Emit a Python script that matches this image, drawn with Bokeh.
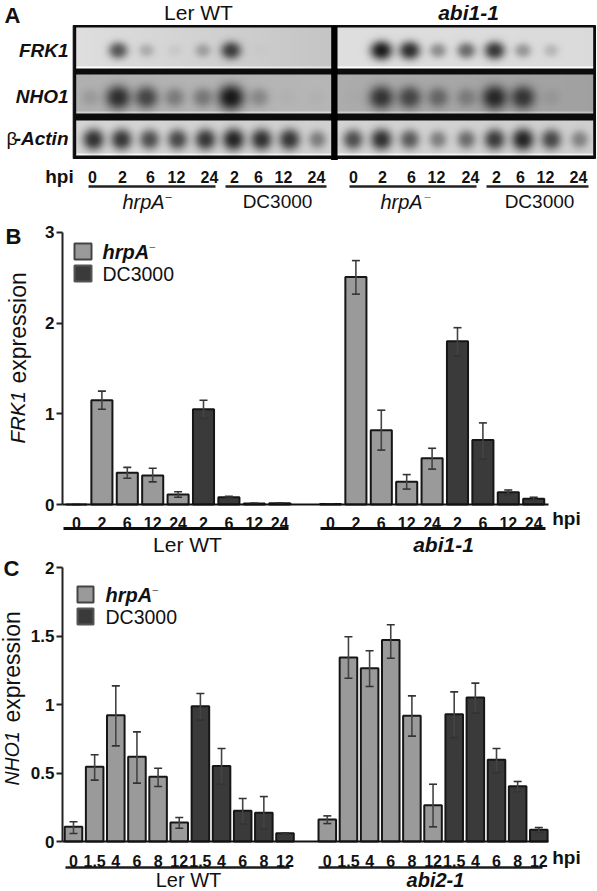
import numpy as np
from bokeh.core.properties import value
from bokeh.embed import file_html
from bokeh.layouts import column
from bokeh.models import FixedTicker, LinearAxis, LinearColorMapper, Range1d
from bokeh.plotting import figure
from bokeh.resources import INLINE

# ---------- data ----------
blot_frk1_ler = [0, .68, .22, .06, .27, .80, .02, 0, 0]
blot_frk1_abi = [0, 1.0, .90, .40, .58, .85, .35, .18, 0]
blot_nho1_ler = [.14, .85, .70, .35, .38, 1.0, .28, .03, .03]
blot_nho1_abi = [.02, .80, .68, .45, .30, .88, .78, .08, 0]
blot_actin_ler = [.88, .85, .72, .75, .85, .95, .88, .85, .45]
blot_actin_abi = [.72, .88, .65, .45, .55, .82, .95, .75, .42]

lane_labels = ["0", "2", "6", "12", "24", "2", "6", "12", "24"]

frk1_labels = ["0", "2", "6", "12", "24", "2", "6", "12", "24"]
frk1_ler = [0.0, 1.15, 0.35, 0.32, 0.11, 1.05, 0.08, 0.012, 0.015]
frk1_ler_up = [0.0, 1.25, 0.41, 0.40, 0.14, 1.15, 0.09, 0.012, 0.015]
frk1_ler_lo = [0.0, 1.05, 0.29, 0.25, 0.08, 0.95, 0.07, 0.012, 0.015]
frk1_abi = [0.005, 2.51, 0.82, 0.25, 0.51, 1.80, 0.71, 0.135, 0.063]
frk1_abi_up = [0.005, 2.69, 1.04, 0.33, 0.62, 1.95, 0.90, 0.16, 0.08]
frk1_abi_lo = [0.005, 2.32, 0.60, 0.17, 0.39, 1.64, 0.50, 0.11, 0.05]

nho1_labels = ["0", "1.5", "4", "6", "8", "12", "1.5", "4", "6", "8", "12"]
nho1_ler = [0.107, 0.545, 0.922, 0.618, 0.472, 0.139, 0.988, 0.552, 0.224, 0.209, 0.061]
nho1_ler_up = [0.144, 0.633, 1.136, 0.80, 0.535, 0.175, 1.08, 0.679, 0.314, 0.328, 0.061]
nho1_ler_lo = [0.058, 0.448, 0.698, 0.426, 0.401, 0.097, 0.886, 0.418, 0.127, 0.09, 0.061]
nho1_abi = [0.161, 1.343, 1.265, 1.47, 0.917, 0.265, 0.929, 1.051, 0.596, 0.404, 0.085]
nho1_abi_up = [0.187, 1.494, 1.392, 1.582, 1.063, 0.418, 1.092, 1.156, 0.679, 0.438, 0.102]
nho1_abi_lo = [0.131, 1.192, 1.131, 1.338, 0.769, 0.107, 0.759, 0.937, 0.504, 0.363, 0.066]

# ---------- style ----------
FONT = "Liberation Sans"
LIGHT, DARK, EDGE, INK = "#9a9a9a", "#3a3a3a", "#161616", "#111111"
W = 597
OX, OY = 0, 0   # positions below are measured in window pixels


def blank(height, x_range, y_range):
    p = figure(width=W, height=height, x_range=x_range, y_range=y_range,
               toolbar_location=None, output_backend="svg", min_border=0,
               tools="", x_axis_type=None, y_axis_type=None)
    p.outline_line_color = None
    p.grid.visible = False
    return p


def put(p, x, y, s, size, style="normal", align="center", angle=0, color=INK):
    p.text(x=[x], y=[y], text=[s], angle=angle, text_font=value(FONT),
           text_font_size=value(f"{size}px"), text_font_style=style,
           text_align=align, text_baseline="middle", text_color=color)


# ---------- panel A ----------
top_a = OY
h_a = 214
pa = blank(h_a, Range1d(OX, OX + W), Range1d(0, h_a))
ya = lambda py: h_a - (py - top_a)

pa.quad(left=[72.7], right=[595], top=[ya(25)], bottom=[ya(158)], color="#0c0c0c")
pa.quad(left=[330.7], right=[337], top=[ya(26)], bottom=[ya(159)], color="#000000")

grays = [f"#{i:02x}{i:02x}{i:02x}" for i in range(256)]
mapper = LinearColorMapper(palette=grays, low=0, high=255)


def lane_image(x0, x1, y0, y1, centers, cy, levels, bg0, bg1, sx, sy):
    w, h = int(round(x1 - x0)), int(round(y1 - y0))
    xs = x0 + (np.arange(w) + .5) * (x1 - x0) / w
    ys = y1 - (np.arange(h) + .5) * (y1 - y0) / h
    X, Y = np.meshgrid(xs, ys)
    frac = (X - x0) / (x1 - x0)
    bg = bg0 + (bg1 - bg0) * frac
    bg = np.where(Y > y1 - 1.6, bg + 35, bg)
    t = np.ones_like(bg)
    for c, lv in zip(centers, levels):
        k = .62 + .38 * lv
        r2 = ((X - c) / (sx * k)) ** 2 + ((Y - cy) / (sy * k)) ** 2
        t *= 1 - .86 * lv * np.exp(-(r2 / 2) ** 1.25)
    return np.clip(bg * t, 0, 255)


rows = [
    (27, 68, 50, blot_frk1_ler, blot_frk1_abi, (222, 196), (222, 218), 7.8, 6.8, 89.5, 28.2),
    (74, 113, 97, blot_nho1_ler, blot_nho1_abi, (176, 182), (172, 160), 9.5, 9, 89.5, 28.2),
    (120, 155, 139, blot_actin_ler, blot_actin_abi, (214, 208), (212, 207), 8, 8, 93, 28),
]
for y0, y1, cy, ler, abi, bgl, bgr, sx, sy, base, step in rows:
    for (x0, x1, lv, bg, b, st) in (
        (75.7, 330.7, ler, bgl, base, step),
        (337, 592.7, abi, bgr, 352.5, 28.2),
    ):
        centers = [b + st * i for i in range(9)]
        arr = lane_image(x0, x1, y0, y1, centers, cy, lv, bg[0], bg[1], sx, sy)
        pa.image(image=[arr], x=x0, y=ya(y1), dw=x1 - x0, dh=y1 - y0, color_mapper=mapper)

put(pa, 4, ya(15), "A", 22, "bold", "left")
put(pa, 198, ya(12), "Ler WT", 21)
put(pa, 468, ya(12), "abi1-1", 21, "bold italic")
put(pa, 68, ya(50), "FRK1", 19, "bold italic", "right")
put(pa, 68, ya(96), "NHO1", 19, "bold italic", "right")
put(pa, 68, ya(138), "-Actin", 19, "bold italic", "right")
put(pa, 6, ya(138), "β", 19, "normal", "left")
put(pa, 59, ya(176), "hpi", 19, "bold")
lane_px = [92, 122, 150, 176, 209, 234, 258, 283, 316, 353, 382, 411, 436, 470, 496, 520, 545, 578]
for px, s in zip(lane_px, lane_labels + lane_labels):
    put(pa, px, ya(176), s, 16, "bold")
for x0, x1 in ((88, 215), (225, 326), (349, 476), (486, 588)):
    pa.segment(x0=[x0], x1=[x1], y0=[ya(186)], y1=[ya(186)], line_width=2.6, line_color="#222222")
put(pa, 143, ya(201), "hrpA", 20, "italic")
put(pa, 168, ya(195), "–", 11)
put(pa, 277, ya(201), "DC3000", 19)
put(pa, 401, ya(201), "hrpA", 20, "italic")
put(pa, 427, ya(195), "–", 11, color="#777777")
put(pa, 539, ya(201), "DC3000", 19)


# ---------- panels B and C ----------
def bar_panel(top, height, x_zero, x_step, right_start, y_zero, y_per, labels,
              ler, ler_up, ler_lo, abi, abi_up, abi_lo, n_light_left, n_light_right,
              y_ticks, y_over, base_end, standoff):
    xd = lambda px: (px - x_zero) / x_step
    yd = lambda py: (y_zero - py) / y_per
    p = blank(height, Range1d(xd(OX), xd(OX + W)), Range1d(yd(top + height), yd(top)))
    n = len(labels)
    xs = list(range(n)) + [right_start + i for i in range(n)]
    tops = ler + abi
    ups = ler_up + abi_up
    los = ler_lo + abi_lo
    fills = [LIGHT] * n_light_left + [DARK] * (n - n_light_left) + [LIGHT] * n_light_right + [DARK] * (n - n_light_right)
    p.vbar(x=xs, top=tops, bottom=0, width=.83, fill_color=fills, line_color=EDGE, line_width=2)
    cap = 4 / x_step
    p.segment(x0=xs, x1=xs, y0=los, y1=ups, line_color="#444444", line_width=1.6)
    p.segment(x0=[x - cap for x in xs], x1=[x + cap for x in xs], y0=ups, y1=ups, line_color="#333333", line_width=1.6)
    p.segment(x0=[x - cap for x in xs], x1=[x + cap for x in xs], y0=los, y1=los, line_color="#333333", line_width=1.6)

    xa = LinearAxis(fixed_location=0, bounds=(xd(62), xd(base_end)),
                    ticker=FixedTicker(ticks=xs),
                    major_label_overrides={x: s for x, s in zip(xs, labels + labels)})
    xa.axis_line_width = 2
    xa.axis_line_color = "#111111"
    xa.major_tick_line_color = None
    xa.minor_tick_line_color = None
    xa.major_label_standoff = standoff
    xa.major_label_text_font = FONT
    xa.major_label_text_font_size = "16px"
    xa.major_label_text_font_style = "bold"
    xa.major_label_text_color = INK
    p.add_layout(xa, "below")

    ya_ = LinearAxis(fixed_location=xd(62), bounds=(0, y_ticks[-1]),
                     ticker=FixedTicker(ticks=y_ticks), major_label_overrides=y_over)
    ya_.axis_line_width = 2
    ya_.axis_line_color = "#222222"
    ya_.major_tick_line_width = 2
    ya_.major_tick_line_color = "#222222"
    ya_.major_tick_in = 0
    ya_.major_tick_out = 6
    ya_.minor_tick_line_color = None
    ya_.major_label_standoff = 2
    ya_.major_label_text_font = FONT
    ya_.major_label_text_font_size = "17px"
    ya_.major_label_text_font_style = "bold"
    ya_.major_label_text_color = INK
    p.add_layout(ya_, "left")
    return p, xd, yd


def legend(p, xd, yd, x0, x1, x_txt, y1a, y1b, y2a, y2b):
    p.quad(left=[xd(x0)], right=[xd(x1)], top=[yd(y1a)], bottom=[yd(y1b)], fill_color=LIGHT, line_color="#444444", line_width=2)
    p.quad(left=[xd(x0)], right=[xd(x1)], top=[yd(y2a)], bottom=[yd(y2b)], fill_color=DARK, line_color="#555555", line_width=2)
    put(p, xd(x_txt), yd((y1a + y1b) / 2), "hrpA", 20, "bold italic", "left")
    put(p, xd(x_txt + 47), yd((y1a + y1b) / 2 - 5), "–", 10, color="#555555", align="left")
    put(p, xd(x_txt), yd((y2a + y2b) / 2), "DC3000", 19.5, "normal", "left")


pb, xb, yb = bar_panel(214, 343, 76, 25.4, 10, 504, 90.67, frk1_labels,
                       frk1_ler, frk1_ler_up, frk1_ler_lo, frk1_abi, frk1_abi_up, frk1_abi_lo,
                       5, 5, [0, 1, 2, 3], {0: "0", 1: "1", 2: "2", 3: "3"}, 548, 6)
legend(pb, xb, yb, 74, 91, 102, 243, 259, 265, 281)
put(pb, xb(5), yb(236), "B", 22, "bold", "left")
put(pb, xb(17), yb(443), "FRK1", 20.5, "italic", "left", angle=np.pi / 2)
put(pb, xb(17), yb(383), "expression", 23, "normal", "left", angle=np.pi / 2)
pb.segment(x0=[xb(63), xb(320)], x1=[xb(288), xb(545)], y0=[yb(528)] * 2, y1=[yb(528)] * 2, line_color="#0c0c0c", line_width=3)
put(pb, xb(566), yb(518), "hpi", 19, "bold")
put(pb, xb(187), yb(544), "Ler WT", 21)
put(pb, xb(443), yb(544), "abi1-1", 21, "bold italic")

pc, xc, yc = bar_panel(557, 334, 73, 21.15, 12, 841, 137, nho1_labels,
                       nho1_ler, nho1_ler_up, nho1_ler_lo, nho1_abi, nho1_abi_up, nho1_abi_lo,
                       6, 6, [0, .5, 1, 1.5, 2], {0: "0", .5: "0.5", 1: "1", 1.5: "1.5", 2: "2"}, 548, 7)
legend(pc, xc, yc, 77, 93, 105, 586, 602, 608, 624)
put(pc, xc(3), yc(568), "C", 22, "bold", "left")
put(pc, xc(11), yc(785), "NHO1", 19.5, "italic", "left", angle=np.pi / 2)
put(pc, xc(11), yc(722), "expression", 23, "normal", "left", angle=np.pi / 2)
pc.segment(x0=[xc(65), xc(318)], x1=[xc(289), xc(542)], y0=[yc(867)] * 2, y1=[yc(867)] * 2, line_color="#1c1c1c", line_width=2.6)
put(pc, xc(566), yc(857), "hpi", 19, "bold")
put(pc, xc(188), yc(879), "Ler WT", 20)
put(pc, xc(435), yc(879), "abi2-1", 20, "bold italic")

page = column(pa, pb, pc, spacing=0)
open("out.html", "w").write(file_html(page, INLINE))
